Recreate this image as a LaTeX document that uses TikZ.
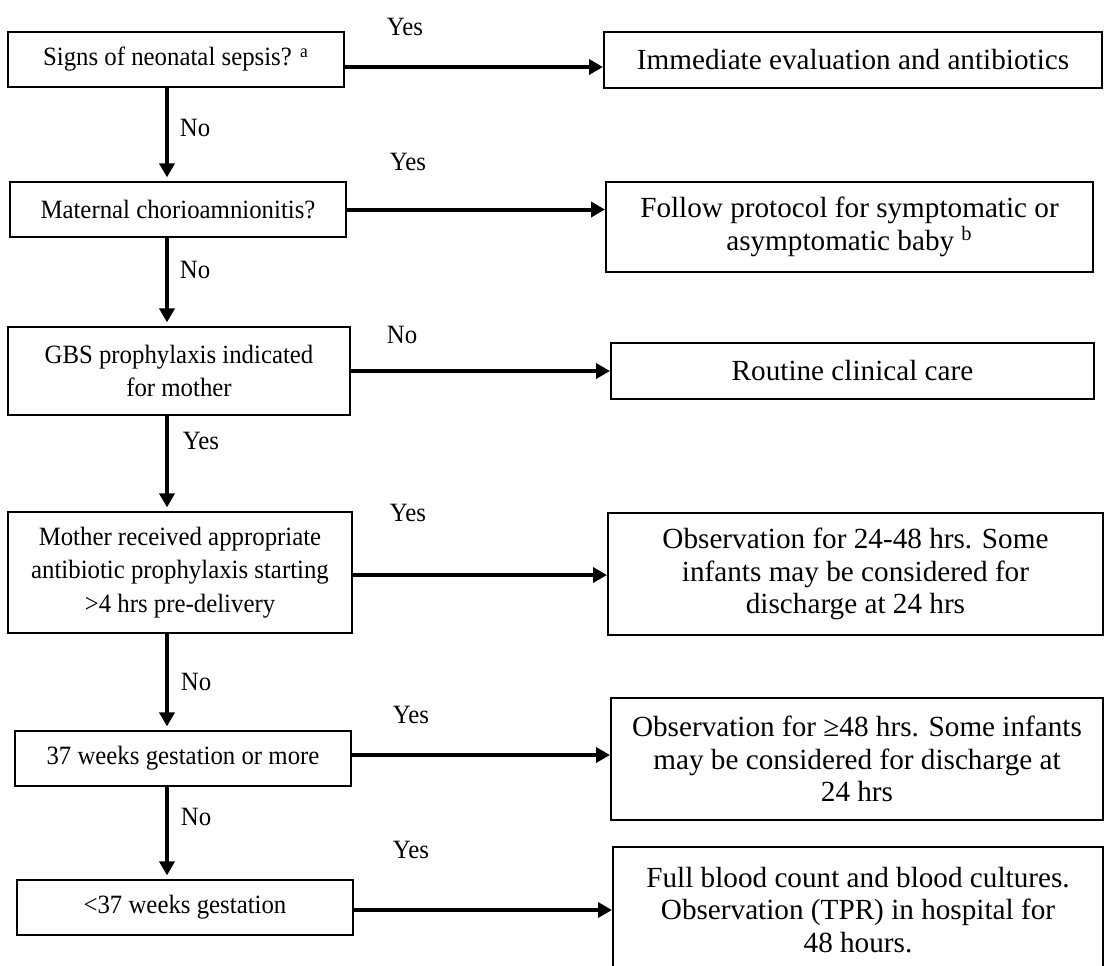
\documentclass[tikz,border=0pt]{standalone}
\usepackage{fontspec}
\setmainfont{Liberation Serif}
\newfontfamily\condfont[FakeStretch=0.94]{Liberation Serif}
\usetikzlibrary{arrows.meta}
\newcommand{\fsz}{\fontsize{14.6pt}{16.4pt}\selectfont}
\newcommand{\fsl}{\condfont\fontsize{13.2pt}{16.6pt}\selectfont}
\begin{document}
\begin{tikzpicture}[x=0.5pt,y=-0.5pt,
  box/.style={draw,line width=1pt,inner sep=0pt,align=center,font=\fsz},
  lbox/.style={box,font=\fsl},
  arr/.style={line width=2pt,-{Triangle[length=7pt,width=7.5pt]}},
  varr/.style={arr,shorten >=1.8pt},
  lab/.style={inner sep=0pt,font=\fsl}]
\useasboundingbox (0,0) rectangle (1104,965);
\clip (0,0) rectangle (1104,965);
% left column
\node[lbox,minimum width=168pt,minimum height=27.5pt] (L1) at (176,59.5) {Signs of neonatal sepsis? \textsuperscript{a}};
\node[lbox,minimum width=168pt,minimum height=27.5pt] (L2) at (178,209.5) {Maternal chorioamnionitis?};
\node[lbox,minimum width=171pt,minimum height=44pt] (L3) at (179,371) {GBS prophylaxis indicated\\for mother};
\node[lbox,minimum width=172pt,minimum height=60.5pt] (L4) at (180,572.5) {Mother received appropriate\\antibiotic prophylaxis starting\\>4 hrs pre-delivery};
\node[lbox,minimum width=168pt,minimum height=27.5pt] (L5) at (183,758.5) {37 weeks gestation or more};
\node[lbox,minimum width=168pt,minimum height=27.5pt] (L6) at (185,907.5) {<37 weeks gestation};
% right column
\node[box,minimum width=249pt,minimum height=28pt] (R1) at (853,60) {Immediate evaluation and antibiotics};
\node[box,minimum width=243.5pt,minimum height=45pt] (R2) at (849.5,227) {Follow protocol for symptomatic or\\asymptomatic baby \textsuperscript{b}};
\node[box,minimum width=241.5pt,minimum height=28pt] (R3) at (852.5,371) {Routine clinical care};
\node[box,minimum width=247.5pt,minimum height=61pt] (R4) at (855.5,574) {Observation for 24-48 hrs. Some\\infants may be considered for\\discharge at 24 hrs};
\node[box,minimum width=246pt,minimum height=61pt] (R5) at (857,759) {Observation for ≥48 hrs. Some infants\\may be considered for discharge at\\24 hrs};
\node[box,minimum width=245pt,minimum height=63pt] (R6) at (858,910) {Full blood count and blood cultures.\\Observation (TPR) in hospital for\\48 hours.};
% horizontal connectors
\coordinate (a1) at ([yshift=-3.75pt]L1.east);
\draw[arr] (a1) -- (a1 -| R1.west);
\draw[arr] (L2.east) -- (L2.east -| R2.west);
\draw[arr] (L3.east) -- (L3.east -| R3.west);
\coordinate (a4) at ([yshift=-1.25pt]L4.east);
\draw[arr] (a4) -- (a4 -| R4.west);
\coordinate (a5) at ([yshift=1.75pt]L5.east);
\draw[arr] (a5) -- (a5 -| R5.west);
\coordinate (a6) at ([yshift=-1.25pt]L6.east);
\draw[arr] (a6) -- (a6 -| R6.west);
% vertical connectors
\coordinate (sp) at (167,0);
\draw[varr] (L1.south -| sp) -- (L2.north -| sp);
\draw[varr] (L2.south -| sp) -- (L3.north -| sp);
\draw[varr] (L3.south -| sp) -- (L4.north -| sp);
\draw[varr] (L4.south -| sp) -- (L5.north -| sp);
\draw[varr] (L5.south -| sp) -- (L6.north -| sp);
% labels
\node[lab] (y1) at (405,27) {Yes};
\node[lab] (n1) at (195,128) {No};
\node[lab] (y2) at (408,162) {Yes};
\node[lab] (n2) at (195,270) {No};
\node[lab] (n3) at (402,335) {No};
\node[lab] (y3) at (201,441) {Yes};
\node[lab] (y4) at (408,513) {Yes};
\node[lab] (n4) at (196,682) {No};
\node[lab] (y5) at (411,715) {Yes};
\node[lab] (n5) at (196,817) {No};
\node[lab] (y6) at (411,850) {Yes};
\end{tikzpicture}
\end{document}
